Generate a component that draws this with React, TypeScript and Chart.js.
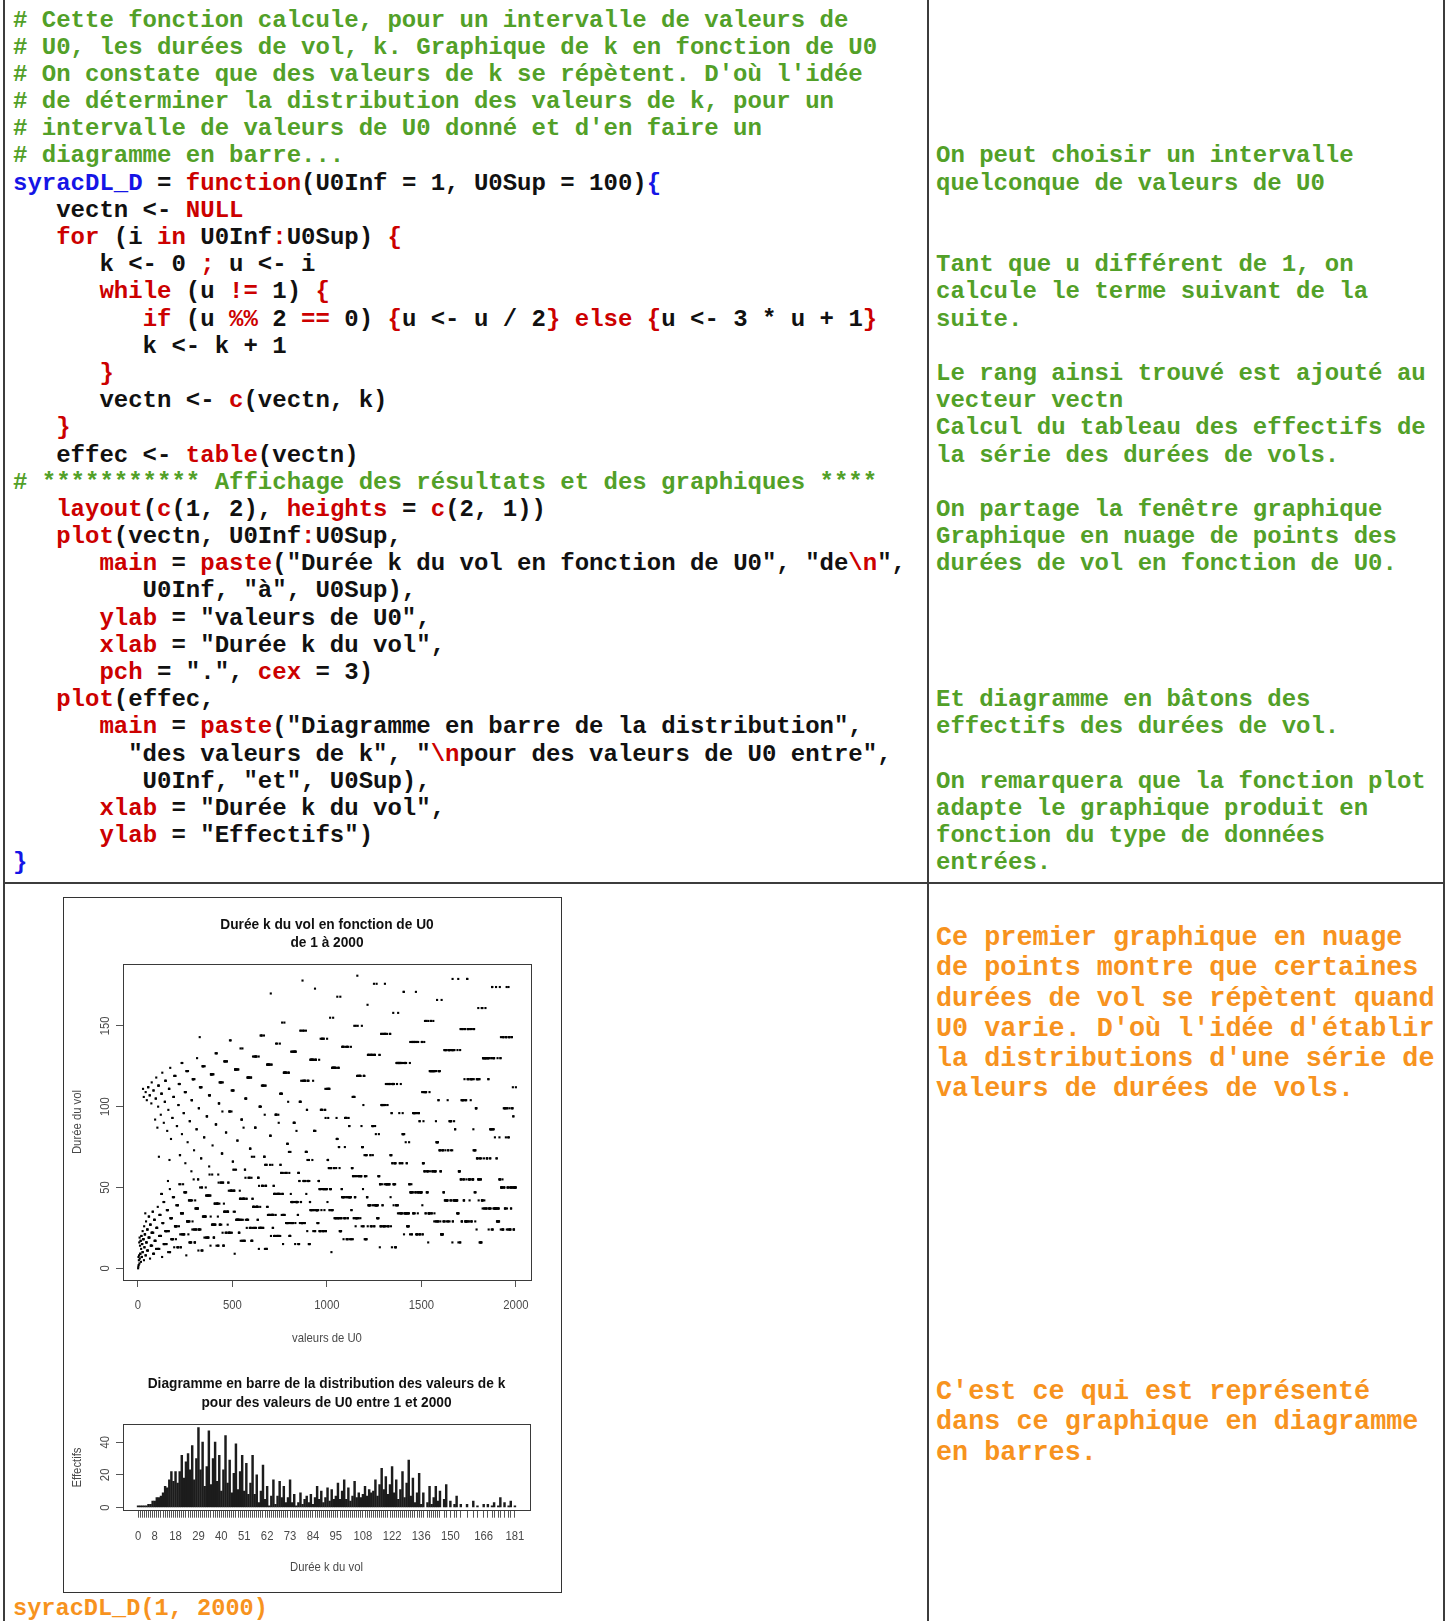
import React, { useEffect, useRef } from "react";
import { Chart, registerables } from "chart.js";
import type { Plugin } from "chart.js";

Chart.register(...registerables);

// ---- Données : durées de vol de la suite de Syracuse pour U0 de 1 à 2000 ----
const U0_INF = 1;
const U0_SUP = 2000;

// même algorithme que syracDL_D : nombre d'étapes pour atteindre 1
function dureeDuVol(u0: number): number {
  let u = u0;
  let k = 0;
  while (u !== 1) {
    u = u % 2 === 0 ? u / 2 : 3 * u + 1;
    k += 1;
  }
  return k;
}

const valeursU0: number[] = Array.from({ length: U0_SUP - U0_INF + 1 }, (_, i) => U0_INF + i);
const durees: number[] = valeursU0.map(dureeDuVol);
// table(vectn) : modalités présentes et effectifs
const modalites: number[] = Array.from(new Set(durees)).sort((a, b) => a - b);
const effectifs: number[] = modalites.map((m) => durees.filter((d) => d === m).length);

// graduations
const scatterXTicks = [0, 500, 1000, 1500, 2000];
const scatterYTicks = [0, 50, 100, 150];
const barYTicks = [0, 20, 40];
const barXLabels = [0, 8, 18, 29, 40, 51, 62, 73, 84, 95, 108, 122, 136, 150, 166, 181];

// ---- Couleurs / polices ----
const GREEN = "#52a028";
const RED = "#cc0000";
const BLUE = "#1515e6";
const BLACK = "#111111";
const ORANGE = "#f7931e";
const MONO = '"Liberation Mono", "DejaVu Sans Mono", monospace';
const R_FONT = '"Liberation Sans", Arial, sans-serif';

type Seg = [string, string];
const g = (t: string): Seg => [GREEN, t];
const r = (t: string): Seg => [RED, t];
const b = (t: string): Seg => [BLUE, t];
const k = (t: string): Seg => [BLACK, t];

const CODE: Seg[][] = [
  [g("# Cette fonction calcule, pour un intervalle de valeurs de")],
  [g("# U0, les durées de vol, k. Graphique de k en fonction de U0")],
  [g("# On constate que des valeurs de k se répètent. D'où l'idée")],
  [g("# de déterminer la distribution des valeurs de k, pour un")],
  [g("# intervalle de valeurs de U0 donné et d'en faire un")],
  [g("# diagramme en barre...")],
  [b("syracDL_D"), k(" = "), r("function"), k("(U0Inf = 1, U0Sup = 100)"), b("{")],
  [k("   vectn <- "), r("NULL")],
  [k("   "), r("for"), k(" (i "), r("in"), k(" U0Inf"), r(":"), k("U0Sup) "), r("{")],
  [k("      k <- 0 "), r(";"), k(" u <- i")],
  [k("      "), r("while"), k(" (u "), r("!="), k(" 1) "), r("{")],
  [k("         "), r("if"), k(" (u "), r("%%"), k(" 2 "), r("=="), k(" 0) "), r("{"), k("u <- u / 2"), r("}"), k(" "), r("else"), k(" "), r("{"), k("u <- 3 * u + 1"), r("}")],
  [k("         k <- k + 1")],
  [k("      "), r("}")],
  [k("      vectn <- "), r("c"), k("(vectn, k)")],
  [k("   "), r("}")],
  [k("   effec <- "), r("table"), k("(vectn)")],
  [g("# *********** Affichage des résultats et des graphiques ****")],
  [k("   "), r("layout"), k("("), r("c"), k("(1, 2), "), r("heights"), k(" = "), r("c"), k("(2, 1))")],
  [k("   "), r("plot"), k("(vectn, U0Inf"), r(":"), k("U0Sup,")],
  [k("      "), r("main"), k(" = "), r("paste"), k('("Durée k du vol en fonction de U0", "de'), r("\\n"), k('",')],
  [k('         U0Inf, "à", U0Sup),')],
  [k("      "), r("ylab"), k(' = "valeurs de U0",')],
  [k("      "), r("xlab"), k(' = "Durée k du vol",')],
  [k("      "), r("pch"), k(' = ".", '), r("cex"), k(" = 3)")],
  [k("   "), r("plot"), k("(effec,")],
  [k("      "), r("main"), k(" = "), r("paste"), k('("Diagramme en barre de la distribution",')],
  [k('        "des valeurs de k", "'), r("\\n"), k('pour des valeurs de U0 entre",')],
  [k('         U0Inf, "et", U0Sup),')],
  [k("      "), r("xlab"), k(' = "Durée k du vol",')],
  [k("      "), r("ylab"), k(' = "Effectifs")')],
  [b("}")],
];

// commentaires de la colonne de droite, indexés sur les lignes du code
const NOTES: Record<number, string> = {
  5: "On peut choisir un intervalle",
  6: "quelconque de valeurs de U0",
  9: "Tant que u différent de 1, on",
  10: "calcule le terme suivant de la",
  11: "suite.",
  13: "Le rang ainsi trouvé est ajouté au",
  14: "vecteur vectn",
  15: "Calcul du tableau des effectifs de",
  16: "la série des durées de vols.",
  18: "On partage la fenêtre graphique",
  19: "Graphique en nuage de points des",
  20: "durées de vol en fonction de U0.",
  25: "Et diagramme en bâtons des",
  26: "effectifs des durées de vol.",
  28: "On remarquera que la fonction plot",
  29: "adapte le graphique produit en",
  30: "fonction du type de données",
  31: "entrées.",
};

const REMARQUE_1 = [
  "Ce premier graphique en nuage",
  "de points montre que certaines",
  "durées de vol se répètent quand",
  "U0 varie. D'où l'idée d'établir",
  "la distributions d'une série de",
  "valeurs de durées de vols.",
];
const REMARQUE_2 = [
  "C'est ce qui est représenté",
  "dans ce graphique en diagramme",
  "en barres.",
];

// étendue à la manière de R (xaxs = "r" : +4 % de chaque côté)
function rRange(values: number[]): [number, number] {
  let lo = Infinity;
  let hi = -Infinity;
  for (const v of values) {
    if (v < lo) lo = v;
    if (v > hi) hi = v;
  }
  const pad = 0.04 * (hi - lo);
  return [lo - pad, hi + pad];
}

const SX = 0.87; // police R un peu étroite

function rText(
  ctx: CanvasRenderingContext2D,
  text: string,
  x: number,
  y: number,
  opts: { bold?: boolean; size?: number; color?: string; rotate?: boolean; sx?: number }
) {
  const size = opts.size ?? 13;
  ctx.save();
  ctx.translate(x, y);
  if (opts.rotate) ctx.rotate(-Math.PI / 2);
  ctx.scale(opts.sx ?? SX, 1);
  ctx.font = `${opts.bold ? "bold " : ""}${size}px ${R_FONT}`;
  ctx.fillStyle = opts.color ?? "#4a4a4a";
  ctx.textAlign = "center";
  ctx.textBaseline = "middle";
  ctx.fillText(text, 0, 0);
  ctx.restore();
}

type FrameCfg = {
  titles: string[];
  titleYs: number[];
  xTitle: string;
  yTitle: string;
  xLabels: number[];
  yLabels: number[];
  tickDy: number;
  xTitleDy: number;
};

function rFrame(cfg: FrameCfg): Plugin {
  return {
    id: "rFrame",
    afterDraw(chart) {
      const ctx = chart.ctx;
      const a = chart.chartArea;
      const xs = chart.scales.x;
      const ys = chart.scales.y;
      ctx.save();
      ctx.strokeStyle = "#3a3a3a";
      ctx.lineWidth = 1;
      ctx.strokeRect(Math.round(a.left) + 0.5, Math.round(a.top) + 0.5, Math.round(a.right - a.left), Math.round(a.bottom - a.top));
      ctx.restore();
      const cx = (a.left + a.right) / 2;
      cfg.titles.forEach((t, i) =>
        rText(ctx, t, cx, cfg.titleYs[i], { bold: true, size: 14, color: "#111", sx: 0.98 })
      );
      cfg.xLabels.forEach((v) => rText(ctx, String(v), xs.getPixelForValue(v), a.bottom + cfg.tickDy, {}));
      cfg.yLabels.forEach((v) =>
        rText(ctx, String(v), a.left - 18, ys.getPixelForValue(v), { rotate: true })
      );
      rText(ctx, cfg.xTitle, cx, a.bottom + cfg.xTitleDy, {});
      rText(ctx, cfg.yTitle, a.left - 46, (a.top + a.bottom) / 2, { rotate: true });
    },
  };
}

const tickGrid = {
  drawOnChartArea: false,
  drawTicks: true,
  tickLength: 7,
  color: "#555555",
  lineWidth: 1,
  offset: false,
};

function ScatterChart() {
  const ref = useRef<HTMLCanvasElement | null>(null);
  useEffect(() => {
    if (!ref.current) return;
    const [xMin, xMax] = rRange(valeursU0);
    const [yMin, yMax] = rRange(durees);
    const chart = new Chart(ref.current, {
      type: "scatter",
      data: {
        datasets: [
          {
            data: valeursU0.map((u, i) => ({ x: u, y: durees[i] })),
            pointStyle: "rect",
            pointRadius: 1.5,
            pointBackgroundColor: "#000",
            pointBorderWidth: 0,
            showLine: false,
          },
        ],
      },
      options: {
        animation: false,
        responsive: false,
        devicePixelRatio: 1,
        events: [],
        layout: { padding: { left: 0, top: 66, right: 30, bottom: 0 } },
        plugins: { legend: { display: false }, tooltip: { enabled: false } },
        scales: {
          x: {
            type: "linear",
            min: xMin,
            max: xMax,
            afterBuildTicks: (s: any) => {
              s.ticks = scatterXTicks.map((v) => ({ value: v }));
            },
            afterFit: (s: any) => {
              s.height = 68;
            },
            ticks: { display: false, autoSkip: false },
            grid: tickGrid,
            border: { display: false },
          },
          y: {
            type: "linear",
            min: yMin,
            max: yMax,
            afterBuildTicks: (s: any) => {
              s.ticks = scatterYTicks.map((v) => ({ value: v }));
            },
            afterFit: (s: any) => {
              s.width = 59;
            },
            ticks: { display: false, autoSkip: false },
            grid: tickGrid,
            border: { display: false },
          },
        },
      },
      plugins: [
        rFrame({
          titles: ["Durée k du vol en fonction de U0", "de 1 à 2000"],
          titleYs: [27.5, 45.5],
          xTitle: "valeurs de U0",
          yTitle: "Durée du vol",
          xLabels: scatterXTicks,
          yLabels: scatterYTicks,
          tickDy: 25.5,
          xTitleDy: 58,
        }),
      ],
    });
    return () => chart.destroy();
  }, []);
  return <canvas ref={ref} width={497} height={450} style={{ position: "absolute", left: 64, top: 898 }} />;
}

function BarChart() {
  const ref = useRef<HTMLCanvasElement | null>(null);
  useEffect(() => {
    if (!ref.current) return;
    const [xMin, xMax] = rRange(modalites);
    const [yMin, yMax] = rRange([0, ...effectifs]);
    const chart = new Chart(ref.current, {
      type: "bar",
      data: {
        datasets: [
          {
            data: modalites.map((m, i) => ({ x: m, y: effectifs[i] })),
            backgroundColor: "#1c1c1c",
            borderWidth: 0,
            barThickness: 1.8,
          } as any,
        ],
      },
      options: {
        animation: false,
        responsive: false,
        devicePixelRatio: 1,
        events: [],
        layout: { padding: { left: 0, top: 74.3, right: 31, bottom: 0 } },
        plugins: { legend: { display: false }, tooltip: { enabled: false } },
        scales: {
          x: {
            type: "linear",
            offset: false,
            min: xMin,
            max: xMax,
            afterBuildTicks: (s: any) => {
              s.ticks = modalites.map((v) => ({ value: v }));
            },
            afterFit: (s: any) => {
              s.height = 81.3;
            },
            ticks: { display: false, autoSkip: false },
            grid: tickGrid,
            border: { display: false },
          },
          y: {
            type: "linear",
            min: yMin,
            max: yMax,
            afterBuildTicks: (s: any) => {
              s.ticks = barYTicks.map((v) => ({ value: v }));
            },
            afterFit: (s: any) => {
              s.width = 59;
            },
            ticks: { display: false, autoSkip: false },
            grid: tickGrid,
            border: { display: false },
          },
        },
      },
      plugins: [
        rFrame({
          titles: ["Diagramme en barre de la distribution des valeurs de k", "pour des valeurs de U0 entre 1 et 2000"],
          titleYs: [34.5, 53.5],
          xTitle: "Durée k du vol",
          yTitle: "Effectifs",
          xLabels: barXLabels,
          yLabels: barYTicks,
          tickDy: 25.5,
          xTitleDy: 57,
        }),
      ],
    });
    return () => chart.destroy();
  }, []);
  return <canvas ref={ref} width={497} height={242} style={{ position: "absolute", left: 64, top: 1350 }} />;
}

const codeBlock: React.CSSProperties = {
  position: "absolute",
  fontFamily: MONO,
  fontWeight: "bold",
  fontSize: 24,
  lineHeight: "27.2px",
  whiteSpace: "pre",
  margin: 0,
};

const rule = (left: number, top: number, width: number, height: number): React.CSSProperties => ({
  position: "absolute",
  left,
  top,
  width,
  height,
  background: "#3c3c3c",
});

export default function App() {
  return (
    <div
      style={{
        position: "absolute",
        left: 0,
        top: 0,
        width: 1449,
        height: 1621,
        overflow: "hidden",
        background: "#ffffff",
      }}
    >
      {/* tableau */}
      <div style={rule(3, 0, 2, 1621)} />
      <div style={rule(927, 0, 2, 1621)} />
      <div style={rule(1443, 0, 2, 1621)} />
      <div style={rule(3, 882, 1442, 2)} />

      {/* code R */}
      <div style={{ ...codeBlock, left: 13, top: 6.5 }}>
        {CODE.map((line, i) => (
          <div key={i} style={{ height: 27.2 }}>
            {line.map(([c, t], j) => (
              <span key={j} style={{ color: c }}>
                {t}
              </span>
            ))}
          </div>
        ))}
      </div>

      {/* explications */}
      <div style={{ ...codeBlock, left: 936, top: 6.5, color: GREEN }}>
        {CODE.map((_, i) => (
          <div key={i} style={{ height: 27.2 }}>
            {NOTES[i] ?? ""}
          </div>
        ))}
      </div>

      {/* cadre de la fenêtre graphique */}
      <div
        style={{
          position: "absolute",
          left: 63,
          top: 897,
          width: 499,
          height: 696,
          boxSizing: "border-box",
          border: "1px solid #333",
        }}
      />
      <ScatterChart />
      <BarChart />

      <div style={{ ...codeBlock, left: 936, top: 923, color: ORANGE, fontSize: 26.8, lineHeight: "30.3px" }}>
        {REMARQUE_1.join("\n")}
      </div>
      <div style={{ ...codeBlock, left: 936, top: 1377, color: ORANGE, fontSize: 26.8, lineHeight: "30.3px" }}>
        {REMARQUE_2.join("\n")}
      </div>
      <div style={{ ...codeBlock, left: 13, top: 1594.5, color: ORANGE, fontSize: 23.6 }}>
        syracDL_D(1, 2000)
      </div>
    </div>
  );
}
